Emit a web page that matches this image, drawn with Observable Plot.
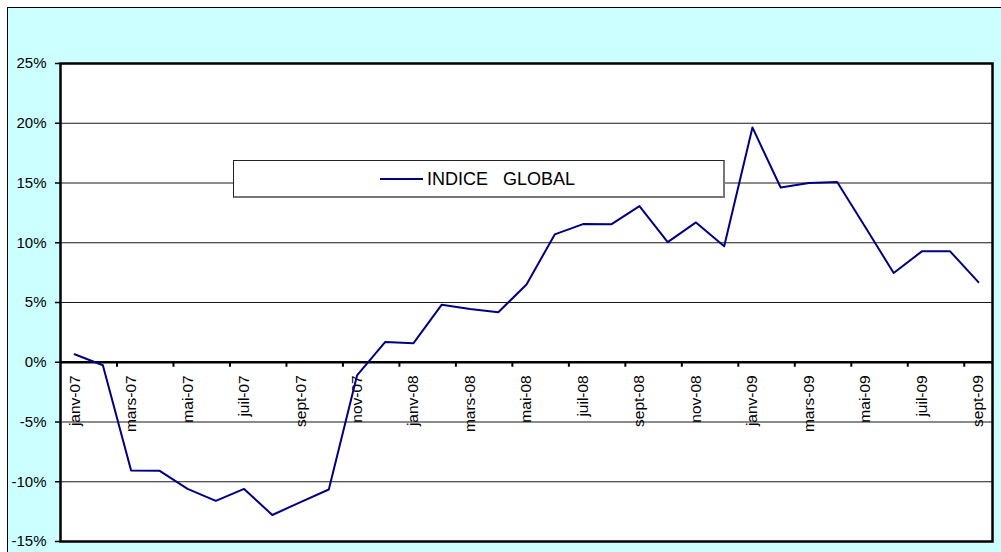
<!DOCTYPE html>
<html><head><meta charset="utf-8">
<script src="https://cdn.jsdelivr.net/npm/d3@7"></script>
<script src="https://cdn.jsdelivr.net/npm/@observablehq/plot@0.6"></script>
<style>
html,body{margin:0;padding:0;background:#fff;}
#wrap{position:relative;width:1001px;height:552px;overflow:hidden;font-family:"Liberation Sans",Arial,sans-serif;}
#bg{position:absolute;left:7px;top:7px;width:1000px;height:560px;background:#CCFFFF;border-top:1px solid #000;border-left:1px solid #000;}
#chart{position:absolute;left:0;top:0;}
#legend{position:absolute;left:233px;top:160px;width:489px;height:35px;background:#fff;border:1px solid #222;border-right:2px solid #777;border-bottom:2px solid #777;}
#legend .sw{position:absolute;left:146px;top:17px;width:43px;height:2px;background:#000080;}
#legend .tx{position:absolute;left:193px;top:0;line-height:36px;font-size:18px;color:#000;white-space:pre;}
</style>
</head><body>
<div id="wrap"><div id="bg"></div><div id="chart"></div>
<div id="legend"><div class="sw"></div><div class="tx" id="legtext"></div></div></div>
<script>
const months = ["janv-07","févr-07","mars-07","avr-07","mai-07","juin-07","juil-07","août-07","sept-07","oct-07","nov-07","déc-07",
"janv-08","févr-08","mars-08","avr-08","mai-08","juin-08","juil-08","août-08","sept-08","oct-08","nov-08","déc-08",
"janv-09","févr-09","mars-09","avr-09","mai-09","juin-09","juil-09","août-09","sept-09"];
const values = [0.67,-0.25,-9.05,-9.07,-10.6,-11.6,-10.6,-12.78,-11.7,-10.65,-1.1,1.7,
1.6,4.82,4.46,4.18,6.5,10.7,11.56,11.54,13.07,10.05,11.7,9.7,
19.65,14.62,15.0,15.08,11.3,7.47,9.28,9.28,6.7];
const yTicks = [-15,-10,-5,0,5,10,15,20,25];
const seriesName = "INDICE   GLOBAL";

document.getElementById("legtext").textContent = seriesName;

const labelIdx = d3.range(0, months.length, 2);
const tickPos = d3.range(2, months.length, 2).map(k => k - 0.5);

const chart = Plot.plot({
  width: 1001, height: 552,
  marginLeft: 60, marginRight: 9, marginTop: 63, marginBottom: 11,
  style: {background: "transparent", fontFamily: "Liberation Sans, Arial, sans-serif", color: "#000"},
  x: {type: "linear", domain: [-0.5, months.length - 0.5], axis: null},
  y: {domain: [-15, 25], axis: null},
  marks: [
    Plot.frame({fill: "#fff", stroke: "none"}),
    Plot.gridY(yTicks, {stroke: "#000", strokeOpacity: 0.9, strokeWidth: 1}),
    Plot.ruleY([0], {stroke: "#000", strokeWidth: 2.5}),
    Plot.ruleX(tickPos, {x: d => d, y1: 0, y2: 0, insetBottom: -5, stroke: "#000", strokeWidth: 2}),
    Plot.axisY(yTicks, {tickSize: 5, tickPadding: 9, tickFormat: d => d + "%", fontSize: 15, label: null, strokeWidth: 1.5}),
    Plot.text(labelIdx, {x: d => d, y: 0, text: d => months[d], rotate: -90, textAnchor: "end", dy: 13, fontSize: 15.5, fill: "#000"}),
    Plot.line(values, {x: (d, i) => i, y: d => d, stroke: "#000080", strokeWidth: 2}),
    Plot.frame({stroke: "#000", strokeWidth: 2.5})
  ]
});
document.getElementById("chart").appendChild(chart);
</script>
</body></html>
